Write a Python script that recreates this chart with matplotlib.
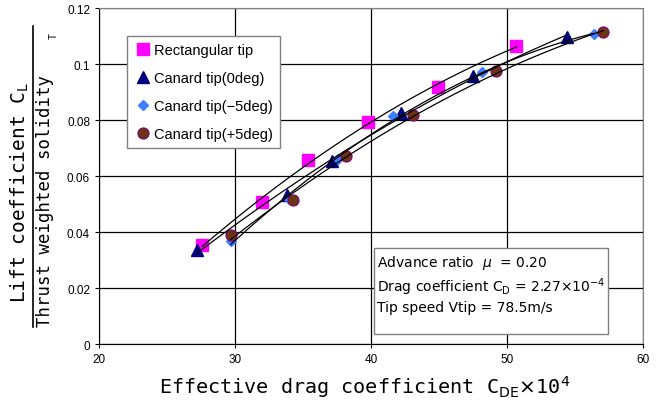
import numpy as np
import matplotlib
matplotlib.use("Agg")
import matplotlib.pyplot as plt
from matplotlib.lines import Line2D

# Effective drag coefficient C_DE x 10^4 and CL / thrust-weighted solidity
rect_x = [27.6, 32.0, 35.4, 39.8, 44.9, 50.7]
rect_y = [0.0353, 0.0507, 0.0657, 0.0793, 0.0918, 0.1064]

can0_x = [27.2, 33.8, 37.1, 42.2, 47.5, 54.4]
can0_y = [0.0336, 0.0532, 0.0653, 0.0825, 0.0957, 0.1096]

canm5_x = [29.7, 34.0, 37.6, 41.6, 48.2, 56.4]
canm5_y = [0.0368, 0.0518, 0.0660, 0.0814, 0.0971, 0.1107]

canp5_x = [29.7, 34.3, 38.2, 43.1, 49.2, 57.1]
canp5_y = [0.0389, 0.0514, 0.0671, 0.0818, 0.0975, 0.1114]

series_labels = ["Rectangular tip", "Canard tip(0deg)", "Canard tip(\u22125deg)", "Canard tip(+5deg)"]
x_ticks = [20, 30, 40, 50, 60]
y_ticks = [0, 0.02, 0.04, 0.06, 0.08, 0.1, 0.12]
y_tick_labels = ["0", "0.02", "0.04", "0.06", "0.08", "0.1", "0.12"]

plt.rcParams["font.family"] = ["Liberation Sans", "DejaVu Sans"]

fig = plt.figure(figsize=(6.56, 4.10), dpi=100)
ax = fig.add_axes([0.151, 0.1585, 0.829, 0.8195])

styles = [
    dict(marker="s", color="#FF00FF", mec="#FF00FF", ms=8),
    dict(marker="^", color="#000080", mec="#000080", ms=8.5),
    dict(marker="D", color="#3F7FFF", mec="#3F7FFF", ms=5.5),
    dict(marker="o", color="#6B3410", mec="#800080", ms=8, mew=0.8),
]
data = [(rect_x, rect_y), (can0_x, can0_y), (canm5_x, canm5_y), (canp5_x, canp5_y)]

handles = []
for (xs, ys), st, lab in zip(data, styles, series_labels):
    ax.plot(xs, ys, linestyle="none", zorder=3, **st)
    # quadratic trend line across each series' range
    c = np.polyfit(xs, ys, 2)
    xx = np.linspace(min(xs), max(xs), 200)
    ax.plot(xx, np.polyval(c, xx), color="black", lw=0.9, zorder=4)
    handles.append(Line2D([], [], linestyle="none", label=lab, **st))

ax.set_xlim(20, 60)
ax.set_ylim(0, 0.12)
ax.set_xticks(x_ticks)
ax.set_yticks(y_ticks)
ax.set_yticklabels(y_tick_labels)
ax.tick_params(axis="both", length=3, direction="out", labelsize=8.5, colors="black")
ax.grid(True, color="black", lw=0.9)
ax.set_axisbelow(True)
for side in ("top", "right"):
    ax.spines[side].set_color("#808080")
for side in ("left", "bottom"):
    ax.spines[side].set_color("black")

leg = ax.legend(handles=handles, loc="upper left", bbox_to_anchor=(0.052, 0.917),
                fontsize=10.5, frameon=True, fancybox=False, borderpad=0.5,
                labelspacing=0.95, handletextpad=0.1, handlelength=1.2,
                borderaxespad=0.0)
leg.get_frame().set_edgecolor("#808080")
leg.get_frame().set_linewidth(1.0)
leg.get_frame().set_alpha(1.0)

# condition box
info = ("Advance ratio  $\\mu$  = 0.20\n"
        "Drag coefficient C$_\\mathrm{D}$ = 2.27$\\times$10$^{-4}$\n"
        "Tip speed Vtip = 78.5m/s\n")
ax.text(0.511, 0.272, info, transform=ax.transAxes, fontsize=10, va="top", ha="left",
        linespacing=1.3, zorder=6, family=["DejaVu Sans"],
        bbox=dict(boxstyle="square,pad=0.2", fc="white", ec="#808080", lw=1.0))

# axis titles
mono = ["DejaVu Sans Mono"]
fig.text(0.556, 0.025, "Effective drag coefficient C$_\\mathrm{DE}$$\\times$10$^4$",
         ha="center", va="bottom", fontsize=14.5, family=mono)
fig.text(0.031, 0.53, "Lift coefficient C$_\\mathrm{L}$", rotation=90,
         ha="center", va="center", fontsize=14, family=mono)
fig.text(0.068, 0.51, "Thrust weighted solidity", rotation=90,
         ha="center", va="center", fontsize=12.5, family=mono)
fig.text(0.082, 0.912, "T", rotation=90, ha="center", va="center", fontsize=7)
fig.add_artist(Line2D([0.051, 0.051], [0.2, 0.934], color="black", lw=1.2,
                      transform=fig.transFigure))

fig.savefig("out.png", dpi=100)
